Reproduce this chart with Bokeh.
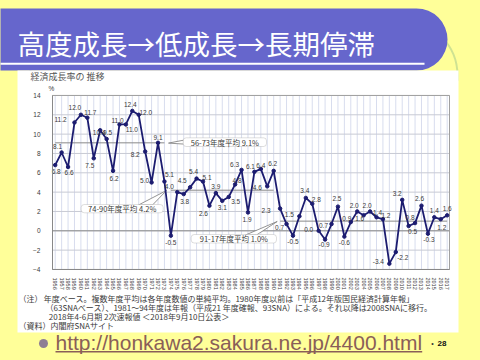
from bokeh.plotting import figure
from bokeh.models import (ColumnDataSource, Label, BoxAnnotation, FixedTicker, LinearAxis)
from bokeh.embed import file_html
from bokeh.resources import INLINE
from bokeh.core.properties import value

# ---------------- data ----------------
years = list(range(1956, 2018))
growth = [6.8, 8.1, 6.6, 11.2, 12.0, 11.7, 7.5, 10.4, 9.5, 6.2,
          11.0, 11.0, 12.4, 12.0, 8.2, 5.0, 9.1, 5.1,
          -0.5, 4.0, 3.8, 4.5, 5.4, 5.1, 2.6, 3.9, 3.1, 3.5,
          4.8, 6.3, 1.9, 6.1, 6.4, 4.6, 6.2,
          2.3, 0.7, -0.5, 1.5, 3.4, 2.8, 0.0, -0.9, 0.7, 2.5,
          -0.6, 0.9, 2.0, 1.6, 2.0, 1.4, 1.2, -3.4, -2.2, 3.2,
          0.5, 0.8, 2.6, -0.3, 1.4, 1.2, 1.6]
avg_start = [1956, 1974, 1991]
avg_end = [1973, 1990, 2017]
avg_value = [9.1, 4.2, 1.0]
avg_text = ["56-73年度平均 9.1%", "74-90年度平均 4.2%", "91-17年度平均 1.0%"]
y_ticks = [-4, -2, 0, 2, 4, 6, 8, 10, 12, 14]
title_text = "高度成長→低成長→長期停滞"
chart_title = "経済成長率の 推移"
note_head = "（注）"
notes = ["年度ベース。複数年度平均は各年度数値の単純平均。1980年度以前は「平成12年版国民経済計算年報」",
         "（63SNAベース）、1981～94年度は年報（平成21 年度確報、93SNA）による。それ以降は2008SNAに移行。",
         "2018年4-6月期 2次速報値 ＜2018年9月10日公表＞"]
source_text = "（資料）内閣府SNAサイト"
url_text = "http://honkawa2.sakura.ne.jp/4400.html"
page_no = "28"

# label placement (pixel offsets of each value label from its point)
label_dx = [1, -4, 1, -14, -6, 3, -4, -1, 1, 1,
            -2, 6, -2, 7, -10, -7, 0, 5,
            0, -8, 1, -8, -3, 4, -6, 0, 0, 7,
            2, -7, -1, -4, 0, -10, -1,
            -14, -7, 0, -10, -1, 4, -10, -1, -8, -1,
            0, -4, -3, -4, -3, 1, 3, -11, 7, -5,
            4, -5, -2, 1, 0, 1, 0]
label_dy = [6, -6, 6, -3, -7, -5, 7, 2, -6, 8,
            -4, 5, -6, -2, 3, -2, -5, -7,
            7, -6, 7, -7, -7, -4, 8, -7, 7, 5,
            -4, -5, 7, -5, -3, 1, -7,
            2, 3, 6, -2, -7, -4, -1, 5, 1, -8,
            6, -4, -6, 3, -6, -5, -4, -2, 5, -6,
            6, -6, -7, 6, -7, 8, -7]

# ---------------- layout: canvas pixels -> data ----------------
W, H = 480, 360
X0, DX = 54.7, 6.426     # pixel of first year, pixels per year
Y0, DY = 230.3, 9.667    # pixel of 0 %, pixels per percentage point
CL, CR = 52, 449         # chart area left / right (pixels)


def px(X):
    return years[0] + (X - X0) / DX


def py(Y):
    return (Y0 - Y) / DY


JP = "Noto Sans CJK JP"
SANS = "Liberation Sans"
YELLOW = "#FFFF99"
NAVY = "#1C1C70"
TXT = "#3A3A3A"

p = figure(width=W, height=H, x_range=(px(0), px(W)), y_range=(py(H), py(0)),
           output_backend="svg", toolbar_location=None, title=None,
           x_axis_location=None, y_axis_location=None,
           min_border=0, min_border_left=0, min_border_right=0,
           min_border_top=0, min_border_bottom=0)
p.border_fill_color = YELLOW
p.background_fill_color = YELLOW
p.outline_line_color = None
p.grid.visible = False

try:
    from bokeh.models import GlobalInlineStyleSheet
    p.stylesheets = [GlobalInlineStyleSheet(css="body { background: #FFFF99; }")]
except Exception:
    pass


def box(X1, Y1, X2, Y2, **kw):
    return BoxAnnotation(left=px(X1), right=px(X2), top=py(Y1), bottom=py(Y2), **kw)


# ---------------- slide decorations ----------------
p.add_layout(box(30, 20, 457, 80, fill_alpha=0, line_color="#5E9E86", line_width=2,
                 border_radius=(0, 55, 0, 0), level="underlay"))
p.add_layout(box(-60, 8, 447, 70, fill_color="#6666CC", fill_alpha=1, line_alpha=0,
                 border_radius=31, level="underlay"))
p.add_layout(box(-10, 62.3, 424, 64.3, fill_color="white", fill_alpha=1, line_alpha=0,
                 level="underlay"))
p.quad(left=px(17), right=px(458), top=py(70), bottom=py(332),
       fill_color="white", line_color=None)

p.add_layout(Label(x=px(17), y=py(42), text=title_text,
                   text_font=JP, text_font_size="27.5px", text_color="white",
                   text_align="left", text_baseline="middle"))

# ---------------- chart frame, grid ----------------
p.quad(left=px(CL), right=px(CR), top=y_ticks[-1], bottom=y_ticks[0],
       fill_color="white", line_color=None)
n = len(years)
p.segment(x0=years, y0=[y_ticks[0]] * n, x1=years, y1=[y_ticks[-1]] * n,
          line_color="#D8DDEE", line_width=1)
m = len(y_ticks)
p.segment(x0=[px(CL)] * m, y0=y_ticks, x1=[px(CR)] * m, y1=y_ticks,
          line_color="#C8CAD4", line_width=1)
p.segment(x0=[px(CL)], y0=[0], x1=[px(CR)], y1=[0], line_color="#8E8E8E", line_width=1)
p.quad(left=px(CL), right=px(CR), top=y_ticks[-1], bottom=y_ticks[0],
       fill_color=None, line_color="#A0A0A0", line_width=1)

# ---------------- axes ----------------
xaxis = LinearAxis(fixed_location=y_ticks[0], ticker=FixedTicker(ticks=years),
                   bounds=(px(CL), px(CR)))
xaxis.major_label_orientation = "vertical"
xaxis.major_label_text_font = SANS
xaxis.major_label_text_font_size = "5.5px"
xaxis.major_label_text_color = TXT
xaxis.major_label_standoff = 2
xaxis.axis_line_color = "#888888"
xaxis.major_tick_line_color = None
xaxis.minor_tick_line_color = None
p.add_layout(xaxis, "below")

yaxis = LinearAxis(fixed_location=px(CL), ticker=FixedTicker(ticks=y_ticks),
                   bounds=(y_ticks[0], y_ticks[-1]))
yaxis.major_label_text_font = SANS
yaxis.major_label_text_font_size = "6.5px"
yaxis.major_label_text_color = TXT
yaxis.major_label_standoff = 6
yaxis.axis_line_color = "#888888"
yaxis.major_tick_line_color = None
yaxis.minor_tick_line_color = None
p.add_layout(yaxis, "left")

# ---------------- averages + callouts ----------------
p.segment(x0=avg_start, y0=avg_value, x1=avg_end, y1=avg_value, line_color="#8A8A8A", line_width=1)

call_box = [(182.7, 137.3, 266, 146), (80.7, 204, 162.7, 212.3), (190.7, 234, 276, 242.5)]
wedges = [[(168, 142.6), (183.5, 139.6), (183.5, 143.6)],
          [(166, 190), (138, 204.5), (152, 204.5)],
          [(276.7, 221), (245, 234.5), (256, 234.5)]]
p.patches(xs=[[px(a) for a, b in w] for w in wedges], ys=[[py(b) for a, b in w] for w in wedges],
          fill_color="white", line_color="#7A7A7A", line_width=0.8)
for (a1, b1, a2, b2), t in zip(call_box, avg_text):
    p.add_layout(box(a1, b1, a2, b2, fill_color="white", fill_alpha=1,
                     line_color="#7A7A7A", line_width=0.8, border_radius=3))
    p.add_layout(Label(x=px((a1 + a2) / 2), y=py((b1 + b2) / 2), text=t, text_font=JP,
                       text_font_size="7.5px", text_color=TXT,
                       text_align="center", text_baseline="middle"))

# ---------------- series ----------------
src = ColumnDataSource(dict(year=years, growth=growth,
                            label=[f"{v:.1f}" for v in growth],
                            dx=label_dx, dy=label_dy))
p.line(x="year", y="growth", source=src, line_color=NAVY, line_width=1.8)
p.scatter(x="year", y="growth", source=src, size=3.5, marker="circle",
          fill_color=NAVY, line_color=NAVY)
p.text(x="year", y="growth", text="label", x_offset="dx", y_offset="dy", source=src,
       text_font=value(SANS), text_font_size="6.5px", text_color=TXT,
       text_align="center", text_baseline="middle")

# ---------------- chart texts ----------------
p.add_layout(Label(x=px(30), y=py(76), text=chart_title,
                   text_font=JP, text_font_size="9px", text_color="#555555",
                   text_align="left", text_baseline="middle"))
p.add_layout(Label(x=px(48), y=py(88), text="%",
                   text_font=SANS, text_font_size="6.5px", text_color=TXT,
                   text_align="left", text_baseline="middle"))

NOTE_FS = "8px"
p.add_layout(Label(x=px(18), y=py(298), text=note_head,
                   text_font=JP, text_font_size=NOTE_FS, text_color=TXT,
                   text_align="left", text_baseline="middle"))
note_x = [43.3, 45, 48.3]
note_y = [298, 307, 315.5]
for nx, ny, t in zip(note_x, note_y, notes):
    p.add_layout(Label(x=px(nx), y=py(ny), text=t,
                       text_font=JP, text_font_size=NOTE_FS, text_color=TXT,
                       text_align="left", text_baseline="middle"))
p.add_layout(Label(x=px(18), y=py(325), text=source_text,
                   text_font=JP, text_font_size=NOTE_FS, text_color=TXT,
                   text_align="left", text_baseline="middle"))

# ---------------- footer ----------------
p.add_layout(box(38.5, 338.5, 47.5, 347.5, fill_color="#8E7E94", fill_alpha=1,
                 line_alpha=0, border_radius=5))
p.add_layout(Label(x=px(55), y=py(342), text=url_text,
                   text_font=SANS, text_font_size="21px", text_color="#8A5E58",
                   text_align="left", text_baseline="middle"))
p.add_layout(box(55, 350.5, 421.7, 352, fill_color="#8A5E58", fill_alpha=1, line_alpha=0))
p.add_layout(Label(x=px(432), y=py(343), text="•",
                   text_font=SANS, text_font_size="7px", text_color="#333333",
                   text_align="center", text_baseline="middle"))
p.add_layout(Label(x=px(437), y=py(343), text=page_no,
                   text_font=SANS, text_font_size="8px", text_font_style="bold", text_color="#111111",
                   text_align="left", text_baseline="middle"))

open("out.html", "w").write(file_html(p, INLINE))
